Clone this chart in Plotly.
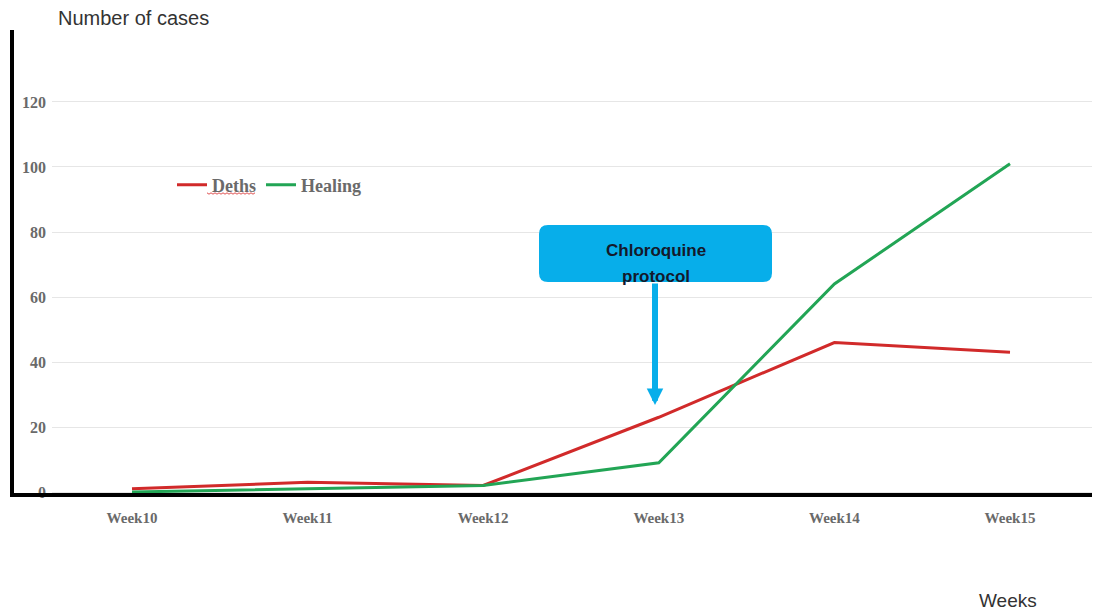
import plotly.graph_objects as go

# Weekly case counts
weeks = ["Week10", "Week11", "Week12", "Week13", "Week14", "Week15"]
deaths = [1, 3, 2, 23, 46, 43]
healing = [0, 1, 2, 9, 64, 101]
y_ticks = [0, 20, 40, 60, 80, 100, 120]

RED = "#d12a2a"
GREEN = "#22a555"
BLUE = "#07aeea"
GRAY_TXT = "#6a6a6a"

W, H = 1104, 616
ML, MR, MT, MB = 12, 12, 30, 121
PW, PH = W - ML - MR, H - MT - MB


def px(x):
    """Pixel column -> paper x."""
    return (x - ML) / PW


def py(y):
    """Pixel row -> paper y."""
    return (H - MB - y) / PH


x_idx = list(range(len(weeks)))

fig = go.Figure()
fig.add_trace(go.Scatter(x=x_idx, y=deaths, mode="lines", name="Deths",
                         line=dict(color=RED, width=3)))
fig.add_trace(go.Scatter(x=x_idx, y=healing, mode="lines", name="Healing",
                         line=dict(color=GREEN, width=3)))

# Callout box with rounded corners (paper coordinates)
bx0, bx1, by0, by1, r = 539, 772, 225, 282, 9
rx, ry = r / PW, r / PH
X0, X1, Y0, Y1 = px(bx0), px(bx1), py(by1), py(by0)
path = (f"M {X0+rx},{Y0} L {X1-rx},{Y0} Q {X1},{Y0} {X1},{Y0+ry} "
        f"L {X1},{Y1-ry} Q {X1},{Y1} {X1-rx},{Y1} L {X0+rx},{Y1} "
        f"Q {X0},{Y1} {X0},{Y1-ry} L {X0},{Y0+ry} Q {X0},{Y0} {X0+rx},{Y0} Z")

# Wavy spell-check underline beneath the "Deths" legend entry
sq_pts = []
for i, xx in enumerate(range(207, 256, 2)):
    sq_pts.append(f"{px(xx)},{py(193 + (1.2 if i % 2 else -0.2))}")
squiggle = "M " + " L ".join(sq_pts)

shapes = [
    dict(type="path", path=path, xref="paper", yref="paper",
         fillcolor=BLUE, line=dict(width=0), layer="above"),
    dict(type="path", path=squiggle, xref="paper", yref="paper",
         line=dict(color="#e05050", width=1), layer="above"),
    # heavy black axis lines
    dict(type="line", xref="paper", yref="paper", x0=0, x1=0, y0=py(497), y1=1,
         line=dict(color="black", width=4), layer="above"),
    dict(type="line", xref="paper", yref="paper", x0=0, x1=1, y0=0, y1=0,
         line=dict(color="black", width=4), layer="above"),
]

callout_font = dict(family="Liberation Sans", size=17, color="#14192b")
annotations = [
    dict(x=px(655), y=py(405), xref="paper", yref="paper", text="",
         showarrow=True, ax=0, ay=-(405 - 282), arrowcolor=BLUE,
         arrowwidth=6, arrowhead=2, arrowsize=0.55),
    dict(x=px(655.5), y=py(251), xref="paper", yref="paper",
         text="<b>Chloroquine</b>", showarrow=False, font=callout_font),
    dict(x=px(655.5), y=py(276), xref="paper", yref="paper",
         text="<b>protocol</b>", showarrow=False, font=callout_font),
    dict(x=px(56), y=py(18), xref="paper", yref="paper", xanchor="left",
         yanchor="middle", text="Number of cases", showarrow=False,
         font=dict(family="Liberation Sans", size=20, color="#333333")),
    dict(x=px(977), y=py(600), xref="paper", yref="paper", xanchor="left",
         yanchor="middle", text="Weeks", showarrow=False,
         font=dict(family="Liberation Sans", size=19, color="#333333")),
]

fig.update_layout(
    width=W, height=H,
    margin=dict(l=ML, r=MR, t=MT, b=MB),
    paper_bgcolor="white", plot_bgcolor="white",
    shapes=shapes, annotations=annotations,
    showlegend=True,
    legend=dict(orientation="h", x=px(172), y=py(185), xanchor="left",
                yanchor="middle", bgcolor="rgba(0,0,0,0)",
                font=dict(family="Liberation Serif", size=18, color=GRAY_TXT,
                          weight="bold"),
                itemwidth=30, tracegroupgap=0),
    xaxis=dict(domain=[px(52), 1], range=[(52 - 132) / 175.6, (1092 - 132) / 175.6],
               tickmode="array", tickvals=x_idx, ticktext=weeks,
               showgrid=False, zeroline=False, showline=False, ticks="",
               ticklabelstandoff=12,
               tickfont=dict(family="Liberation Serif", size=15, color=GRAY_TXT,
                             weight="bold")),
    yaxis=dict(range=[-0.92, 142.15], tickmode="array", tickvals=y_ticks,
               showgrid=True, gridcolor="#e6e6e6", gridwidth=1,
               zeroline=False, showline=False, ticks="",
               ticklabelstandoff=5,
               tickfont=dict(family="Liberation Serif", size=16, color=GRAY_TXT,
                             weight="bold")),
)

fig.write_html("out.html")
